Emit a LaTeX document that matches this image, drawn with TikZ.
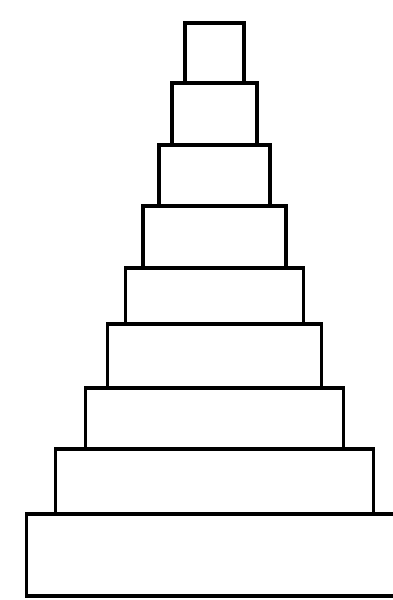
\documentclass[tikz,border=0pt]{standalone}
\usetikzlibrary{positioning}

\begin{document}
\begin{tikzpicture}[
    tier/.style={draw, rectangle, line width=0.075cm, inner sep=0pt, outer sep=0pt}]
  \useasboundingbox (0,0) rectangle (7.84,-12);
  % stacked tiers, top to bottom
  \node[tier, anchor=north, minimum width=1.18cm, minimum height=1.20cm] (t1) at (4.29,-0.46) {};
  \node[tier, below=0pt of t1, minimum width=1.70cm, minimum height=1.24cm] (t2) {};
  \node[tier, below=0pt of t2, minimum width=2.22cm, minimum height=1.22cm] (t3) {};
  \node[tier, below=0pt of t3, minimum width=2.86cm, minimum height=1.24cm] (t4) {};
  \node[tier, below=0pt of t4, minimum width=3.56cm, minimum height=1.12cm] (t5) {};
  \node[tier, below=0pt of t5, minimum width=4.28cm, minimum height=1.28cm] (t6) {};
  \node[tier, below=0pt of t6, minimum width=5.16cm, minimum height=1.22cm] (t7) {};
  \node[tier, below=0pt of t7, minimum width=6.36cm, minimum height=1.30cm] (t8) {};
  \node[tier, below=0pt of t8, minimum width=7.52cm, minimum height=1.64cm] (t9) {};
\end{tikzpicture}
\end{document}
